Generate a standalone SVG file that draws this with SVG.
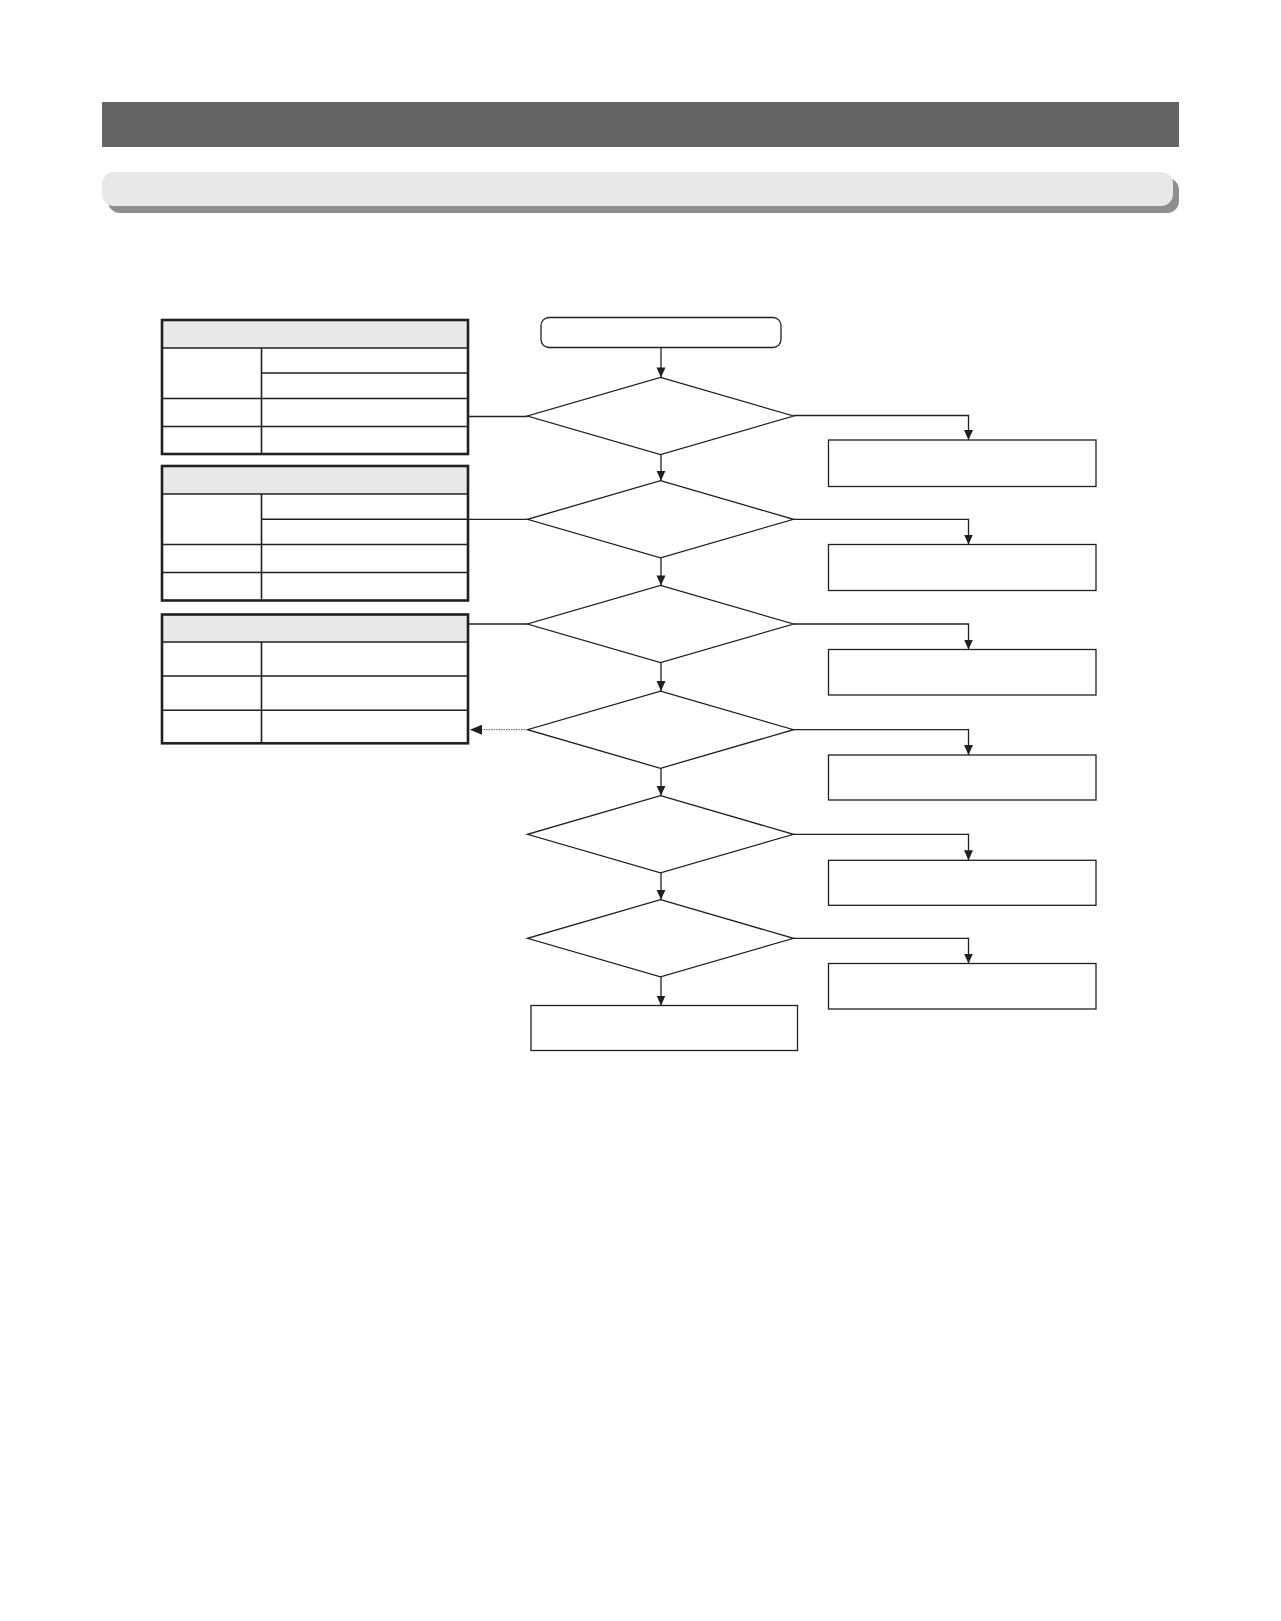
<svg xmlns="http://www.w3.org/2000/svg" width="1281" height="1621" viewBox="0 0 1281 1621">
<style>
.tbl{fill:none;stroke:#231f20;stroke-width:2.6}
.ln{stroke:#231f20;stroke-width:1.6;fill:none}
.hd{fill:#e8e8e8}
.shape{fill:#fff;stroke:#231f20;stroke-width:1.3}
.con{stroke:#231f20;stroke-width:1.3;fill:none}
.dot{stroke:#777;stroke-width:1.2;stroke-dasharray:1.5 1;fill:none}
</style>
<defs>
<marker id="ah" viewBox="0 0 10 10" refX="10" refY="5" markerWidth="10" markerHeight="10" markerUnits="userSpaceOnUse" orient="auto">
<path d="M0,0.5 L10,5 L0,9.5 z" fill="#231f20"/>
</marker>
<marker id="ahs" viewBox="0 0 12 10" refX="12" refY="5" markerWidth="12" markerHeight="10" markerUnits="userSpaceOnUse" orient="auto">
<path d="M0,0 L12,5 L0,10 z" fill="#231f20"/>
</marker>
</defs>
<rect width="1281" height="1621" fill="#fff"/>
<g id="header">
<rect x="102" y="102" width="1077" height="45" fill="#656364"/>
</g>
<g id="subheader">
<rect x="108" y="178" width="1071" height="35" rx="12" fill="#8f8d8e"/>
<rect x="102" y="172" width="1071" height="34" rx="12" fill="#e8e8e8"/>
</g>
<g id="table1">
<rect class="hd" x="162" y="320" width="306" height="28"/>
<line class="ln" x1="162" y1="348" x2="468" y2="348"/>
<line class="ln" x1="262" y1="373" x2="468" y2="373"/>
<line class="ln" x1="162" y1="398.5" x2="468" y2="398.5"/>
<line class="ln" x1="162" y1="426.5" x2="468" y2="426.5"/>
<line class="ln" x1="261.5" y1="348" x2="261.5" y2="454"/>
<rect class="tbl" x="162" y="320" width="306" height="134"/>
</g>
<g id="table2">
<rect class="hd" x="162" y="466" width="306" height="28"/>
<line class="ln" x1="162" y1="494" x2="468" y2="494"/>
<line class="ln" x1="262" y1="519.3" x2="468" y2="519.3"/>
<line class="ln" x1="162" y1="544.5" x2="468" y2="544.5"/>
<line class="ln" x1="162" y1="572.5" x2="468" y2="572.5"/>
<line class="ln" x1="261.5" y1="494" x2="261.5" y2="600.5"/>
<rect class="tbl" x="162" y="466" width="306" height="134.5"/>
</g>
<g id="table3">
<rect class="hd" x="162" y="614.5" width="306" height="27.5"/>
<line class="ln" x1="162" y1="642" x2="468" y2="642"/>
<line class="ln" x1="162" y1="676" x2="468" y2="676"/>
<line class="ln" x1="162" y1="710.3" x2="468" y2="710.3"/>
<line class="ln" x1="261.5" y1="642" x2="261.5" y2="743"/>
<rect class="tbl" x="162" y="614.5" width="306" height="128.8"/>
</g>
<g id="start">
<rect class="shape" x="541" y="317.5" width="240" height="30" rx="8"/>
</g>
<g id="d1"><polygon class="shape" points="660.5,377.4 793.5,416 660.5,454.6 527.5,416"/></g>
<g id="d2"><polygon class="shape" points="660.5,480.7 793.5,519.3 660.5,557.9 527.5,519.3"/></g>
<g id="d3"><polygon class="shape" points="660.5,585.4 793.5,624 660.5,662.6 527.5,624"/></g>
<g id="d4"><polygon class="shape" points="660.5,691.1 793.5,729.7 660.5,768.3 527.5,729.7"/></g>
<g id="d5"><polygon class="shape" points="660.5,795.7 793.5,834.3 660.5,872.9 527.5,834.3"/></g>
<g id="d6"><polygon class="shape" points="660.5,899.7 793.5,938.3 660.5,976.9 527.5,938.3"/></g>
<g id="b1"><rect class="shape" x="828.5" y="440" width="267.5" height="46.5"/></g>
<g id="b2"><rect class="shape" x="828.5" y="544.5" width="267.5" height="46"/></g>
<g id="b3"><rect class="shape" x="828.5" y="649.5" width="267.5" height="45.5"/></g>
<g id="b4"><rect class="shape" x="828.5" y="755" width="267.5" height="45"/></g>
<g id="b5"><rect class="shape" x="828.5" y="860.3" width="267.5" height="45"/></g>
<g id="b6"><rect class="shape" x="828.5" y="963.5" width="267.5" height="45.5"/></g>
<g id="end"><rect class="shape" x="531" y="1005.5" width="266.5" height="45"/></g>
<g id="connectors">
<line class="con" x1="661" y1="347.5" x2="661" y2="377.4" marker-end="url(#ah)"/>
<line class="con" x1="661" y1="454.6" x2="661" y2="480.7" marker-end="url(#ah)"/>
<line class="con" x1="661" y1="557.9" x2="661" y2="585.4" marker-end="url(#ah)"/>
<line class="con" x1="661" y1="662.6" x2="661" y2="691.1" marker-end="url(#ah)"/>
<line class="con" x1="661" y1="768.3" x2="661" y2="795.7" marker-end="url(#ah)"/>
<line class="con" x1="661" y1="872.9" x2="661" y2="899.7" marker-end="url(#ah)"/>
<line class="con" x1="661" y1="976.9" x2="661" y2="1005.5" marker-end="url(#ah)"/>
<polyline class="con" points="793.5,415.5 968.5,415.5 968.5,440" marker-end="url(#ah)"/>
<polyline class="con" points="793.5,519.3 968.5,519.3 968.5,544.5" marker-end="url(#ah)"/>
<polyline class="con" points="793.5,624 968.5,624 968.5,649.5" marker-end="url(#ah)"/>
<polyline class="con" points="793.5,729.7 968.5,729.7 968.5,755" marker-end="url(#ah)"/>
<polyline class="con" points="793.5,834.3 968.5,834.3 968.5,860.3" marker-end="url(#ah)"/>
<polyline class="con" points="793.5,938.3 968.5,938.3 968.5,963.5" marker-end="url(#ah)"/>
<line class="con" x1="469" y1="416.5" x2="527.5" y2="416.5"/>
<line class="con" x1="469" y1="519.3" x2="527.5" y2="519.3"/>
<line class="con" x1="469" y1="624" x2="527.5" y2="624"/>
<line class="dot" x1="527.5" y1="729.7" x2="470" y2="729.7" marker-end="url(#ahs)"/>
</g>
</svg>
